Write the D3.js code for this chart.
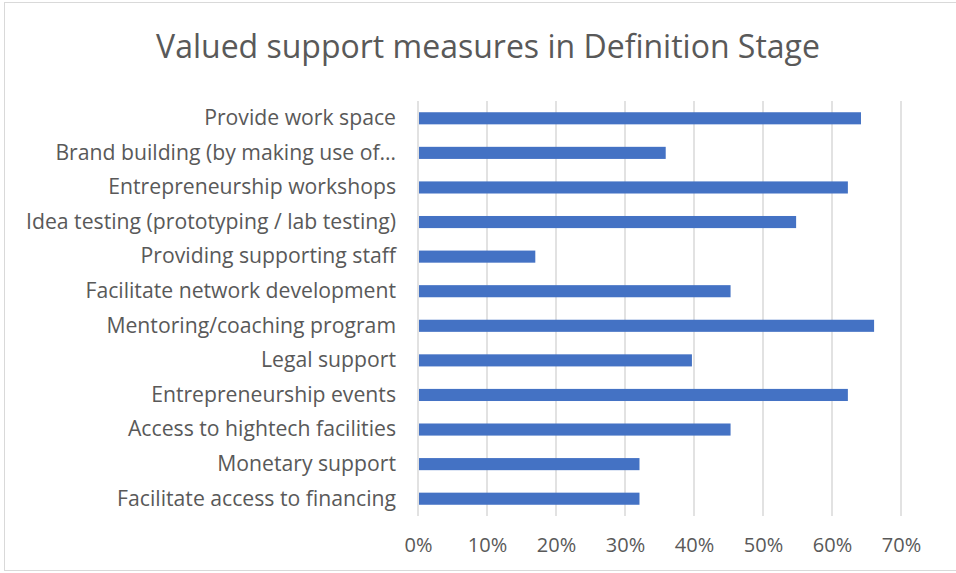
<!DOCTYPE html>
<html>
<head>
<meta charset="utf-8">
<script src="https://cdn.jsdelivr.net/npm/d3@7"></script>
<style>
  body { margin: 0; background: #fff; }
  text { font-family: "Open Sans", "Liberation Sans", sans-serif; }
</style>
</head>
<body>
<div id="chart"></div>
<script>
var categories = [
    "Provide work space",
    "Brand building (by making use of\u2026",
    "Entrepreneurship workshops",
    "Idea testing (prototyping / lab testing)",
    "Providing supporting staff",
    "Facilitate network development",
    "Mentoring/coaching program",
    "Legal support",
    "Entrepreneurship events",
    "Access to hightech facilities",
    "Monetary support",
    "Facilitate access to financing"
];
var values = [0.642, 0.359, 0.623, 0.548, 0.170, 0.453, 0.661, 0.397, 0.623, 0.453, 0.321, 0.321];
var ticks = [0, 0.1, 0.2, 0.3, 0.4, 0.5, 0.6, 0.7];

function init() {
    var w = 956, h = 573;
    var left = 418, right = 901, top = 101, bottom = 516;

    var svg = d3.select("#chart")
        .append("svg")
        .attr("width", w)
        .attr("height", h);

    svg.append("rect")
        .attr("x", 4.5).attr("y", 2.5)
        .attr("width", w + 10).attr("height", h - 5)
        .attr("fill", "#fff")
        .attr("stroke", "#d9d9d9");

    svg.append("text")
        .attr("x", 488)
        .attr("y", 58)
        .attr("text-anchor", "middle")
        .style("font-size", "32px")
        .style("fill", "#595959")
        .text("Valued support measures in Definition Stage");

    var xScale = d3.scaleLinear()
        .domain([0, 0.7])
        .range([left, right]);

    var yScale = d3.scaleBand()
        .domain(categories)
        .range([top, bottom])
        .paddingInner(0.65)
        .paddingOuter(0.325);

    svg.selectAll(".grid")
        .data(ticks)
        .enter()
        .append("line")
        .attr("x1", function (d) { return xScale(d); })
        .attr("x2", function (d) { return xScale(d); })
        .attr("y1", top)
        .attr("y2", bottom)
        .attr("stroke", "#d9d9d9")
        .attr("stroke-width", 1.5);

    svg.selectAll(".bar")
        .data(values)
        .enter()
        .append("rect")
        .attr("x", xScale(0) + 1)
        .attr("y", function (d, i) { return yScale(categories[i]); })
        .attr("width", function (d) { return xScale(d) - xScale(0) - 1; })
        .attr("height", yScale.bandwidth())
        .attr("fill", "#4472c4");

    var xAxis = d3.axisBottom(xScale)
        .tickValues(ticks)
        .tickFormat(d3.format(".0%"))
        .tickSize(0)
        .tickPadding(0);

    svg.append("g")
        .attr("transform", "translate(0," + 538 + ")")
        .call(xAxis)
        .call(function (g) { g.select(".domain").remove(); })
        .selectAll("text")
        .style("font-size", "20px")
        .style("font-family", "'Open Sans', sans-serif")
        .style("fill", "#595959");

    var yAxis = d3.axisLeft(yScale)
        .tickSize(0)
        .tickPadding(0);

    svg.append("g")
        .attr("transform", "translate(396,0)")
        .call(yAxis)
        .call(function (g) { g.select(".domain").remove(); })
        .selectAll("text")
        .style("font-size", "21.2px")
        .style("font-family", "'Open Sans', sans-serif")
        .style("fill", "#595959");
}

window.onload = init;
</script>
</body>
</html>
